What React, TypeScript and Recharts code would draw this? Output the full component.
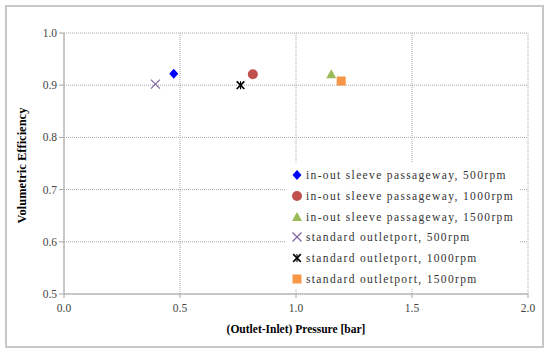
import React from 'react';
import { ScatterChart, Scatter, XAxis, YAxis, CartesianGrid } from 'recharts';

const seriesNames = [
  'in-out sleeve passageway, 500rpm',
  'in-out sleeve passageway, 1000rpm',
  'in-out sleeve passageway, 1500rpm',
  'standard outletport, 500rpm',
  'standard outletport, 1000rpm',
  'standard outletport, 1500rpm',
];
const sleeve500 = [{ x: 0.473, y: 0.922 }];
const sleeve1000 = [{ x: 0.814, y: 0.921 }];
const sleeve1500 = [{ x: 1.152, y: 0.921 }];
const standard500 = [{ x: 0.394, y: 0.902 }];
const standard1000 = [{ x: 0.761, y: 0.9 }];
const standard1500 = [{ x: 1.195, y: 0.908 }];
const xTicks = [0, 0.5, 1.0, 1.5, 2.0];
const yTicks = [0.5, 0.6, 0.7, 0.8, 0.9, 1.0];

const colors = ['#0000ff', '#c0504d', '#9bbb59', '#8064a2', '#000000', '#f79646'];
const kinds = ['diamond', 'circle', 'triangle', 'x', 'star', 'square'];

const FONT = '"Liberation Serif", "DejaVu Serif", serif';

function Marker({ kind, color, cx, cy }: { kind: string; color: string; cx: number; cy: number }) {
  switch (kind) {
    case 'diamond':
      return <polygon points={`${cx},${cy - 5} ${cx + 4.5},${cy} ${cx},${cy + 5} ${cx - 4.5},${cy}`} fill={color} />;
    case 'circle':
      return <circle cx={cx} cy={cy} r={5} fill={color} />;
    case 'triangle':
      return <polygon points={`${cx},${cy - 5} ${cx + 5},${cy + 4} ${cx - 5},${cy + 4}`} fill={color} />;
    case 'square':
      return <rect x={cx - 4.5} y={cy - 4.5} width={9} height={9} fill={color} />;
    case 'x':
      return (
        <g stroke={color} strokeWidth={1.2}>
          <line x1={cx - 4.5} y1={cy - 4.5} x2={cx + 4.5} y2={cy + 4.5} />
          <line x1={cx - 4.5} y1={cy + 4.5} x2={cx + 4.5} y2={cy - 4.5} />
        </g>
      );
    case 'star':
      return (
        <g stroke={color} strokeWidth={1.7}>
          <line x1={cx - 3.8} y1={cy - 3.8} x2={cx + 3.8} y2={cy + 3.8} />
          <line x1={cx - 3.8} y1={cy + 3.8} x2={cx + 3.8} y2={cy - 3.8} />
          <line x1={cx} y1={cy - 4} x2={cx} y2={cy + 4} strokeWidth={1.1} />
        </g>
      );
    default:
      return null;
  }
}

const makeShape = (i: number) => (props: any) => (
  <Marker kind={kinds[i]} color={colors[i]} cx={props.cx} cy={props.cy} />
);

const datasets = [sleeve500, sleeve1000, sleeve1500, standard500, standard1000, standard1500];

export default function App() {
  return (
    <div style={{ position: 'absolute', left: 0, top: 0, width: 550, height: 355, background: '#fff' }}>
      <div
        style={{
          position: 'absolute',
          left: 5,
          top: 5,
          width: 539,
          height: 343,
          border: '2px solid #c8c8c8',
          boxSizing: 'border-box',
        }}
      />
      <div style={{ position: 'absolute', left: 0, top: 0 }}>
        <ScatterChart width={550} height={355} margin={{ top: 33, right: 22, bottom: 0, left: 0 }}>
          <CartesianGrid stroke="#a6a6a6" strokeDasharray="1 1" />
          <XAxis
            type="number"
            dataKey="x"
            domain={[0, 2]}
            ticks={xTicks}
            height={61}
            tickFormatter={(v: number) => v.toFixed(1)}
            stroke="#a6a6a6"
            tickSize={4}
            tick={{ fill: '#444', fontFamily: FONT, fontSize: 11.5, dy: 4 }}
            label={{
              value: '(Outlet-Inlet) Pressure [bar]',
              position: 'insideBottom',
              offset: 22,
              style: { fontFamily: FONT, fontWeight: 'bold', fontSize: 11.5, fill: '#000' },
            }}
          />
          <YAxis
            type="number"
            dataKey="y"
            domain={[0.5, 1]}
            ticks={yTicks}
            width={64}
            tickFormatter={(v: number) => v.toFixed(1)}
            stroke="#a6a6a6"
            tickSize={5}
            tick={{ fill: '#444', fontFamily: FONT, fontSize: 11.5 }}
            label={{
              value: 'Volumetric Efficiency',
              angle: -90,
              position: 'insideLeft',
              offset: 22,
              dy: 2,
              style: { fontFamily: FONT, fontWeight: 'bold', fontSize: 12.5, fill: '#000', textAnchor: 'middle' },
            }}
          />
          {datasets.map((d, i) => (
            <Scatter
              key={seriesNames[i]}
              name={seriesNames[i]}
              data={d}
              fill={colors[i]}
              shape={makeShape(i)}
              isAnimationActive={false}
            />
          ))}
        </ScatterChart>
      </div>
      <div style={{ position: 'absolute', left: 285, top: 163, width: 234, height: 126, background: '#fff' }}>
        {seriesNames.map((name, i) => (
          <div
            key={name}
            style={{
              position: 'absolute',
              left: 6,
              top: 5 + i * 20.8,
              height: 14,
              display: 'flex',
              alignItems: 'center',
              fontFamily: FONT,
              fontSize: 11.5,
              letterSpacing: 1.35,
              color: '#333',
              whiteSpace: 'nowrap',
            }}
          >
            <svg width={12} height={12} style={{ marginRight: 3 }}>
              <Marker kind={kinds[i]} color={colors[i]} cx={6} cy={6} />
            </svg>
            {name}
          </div>
        ))}
      </div>
    </div>
  );
}
